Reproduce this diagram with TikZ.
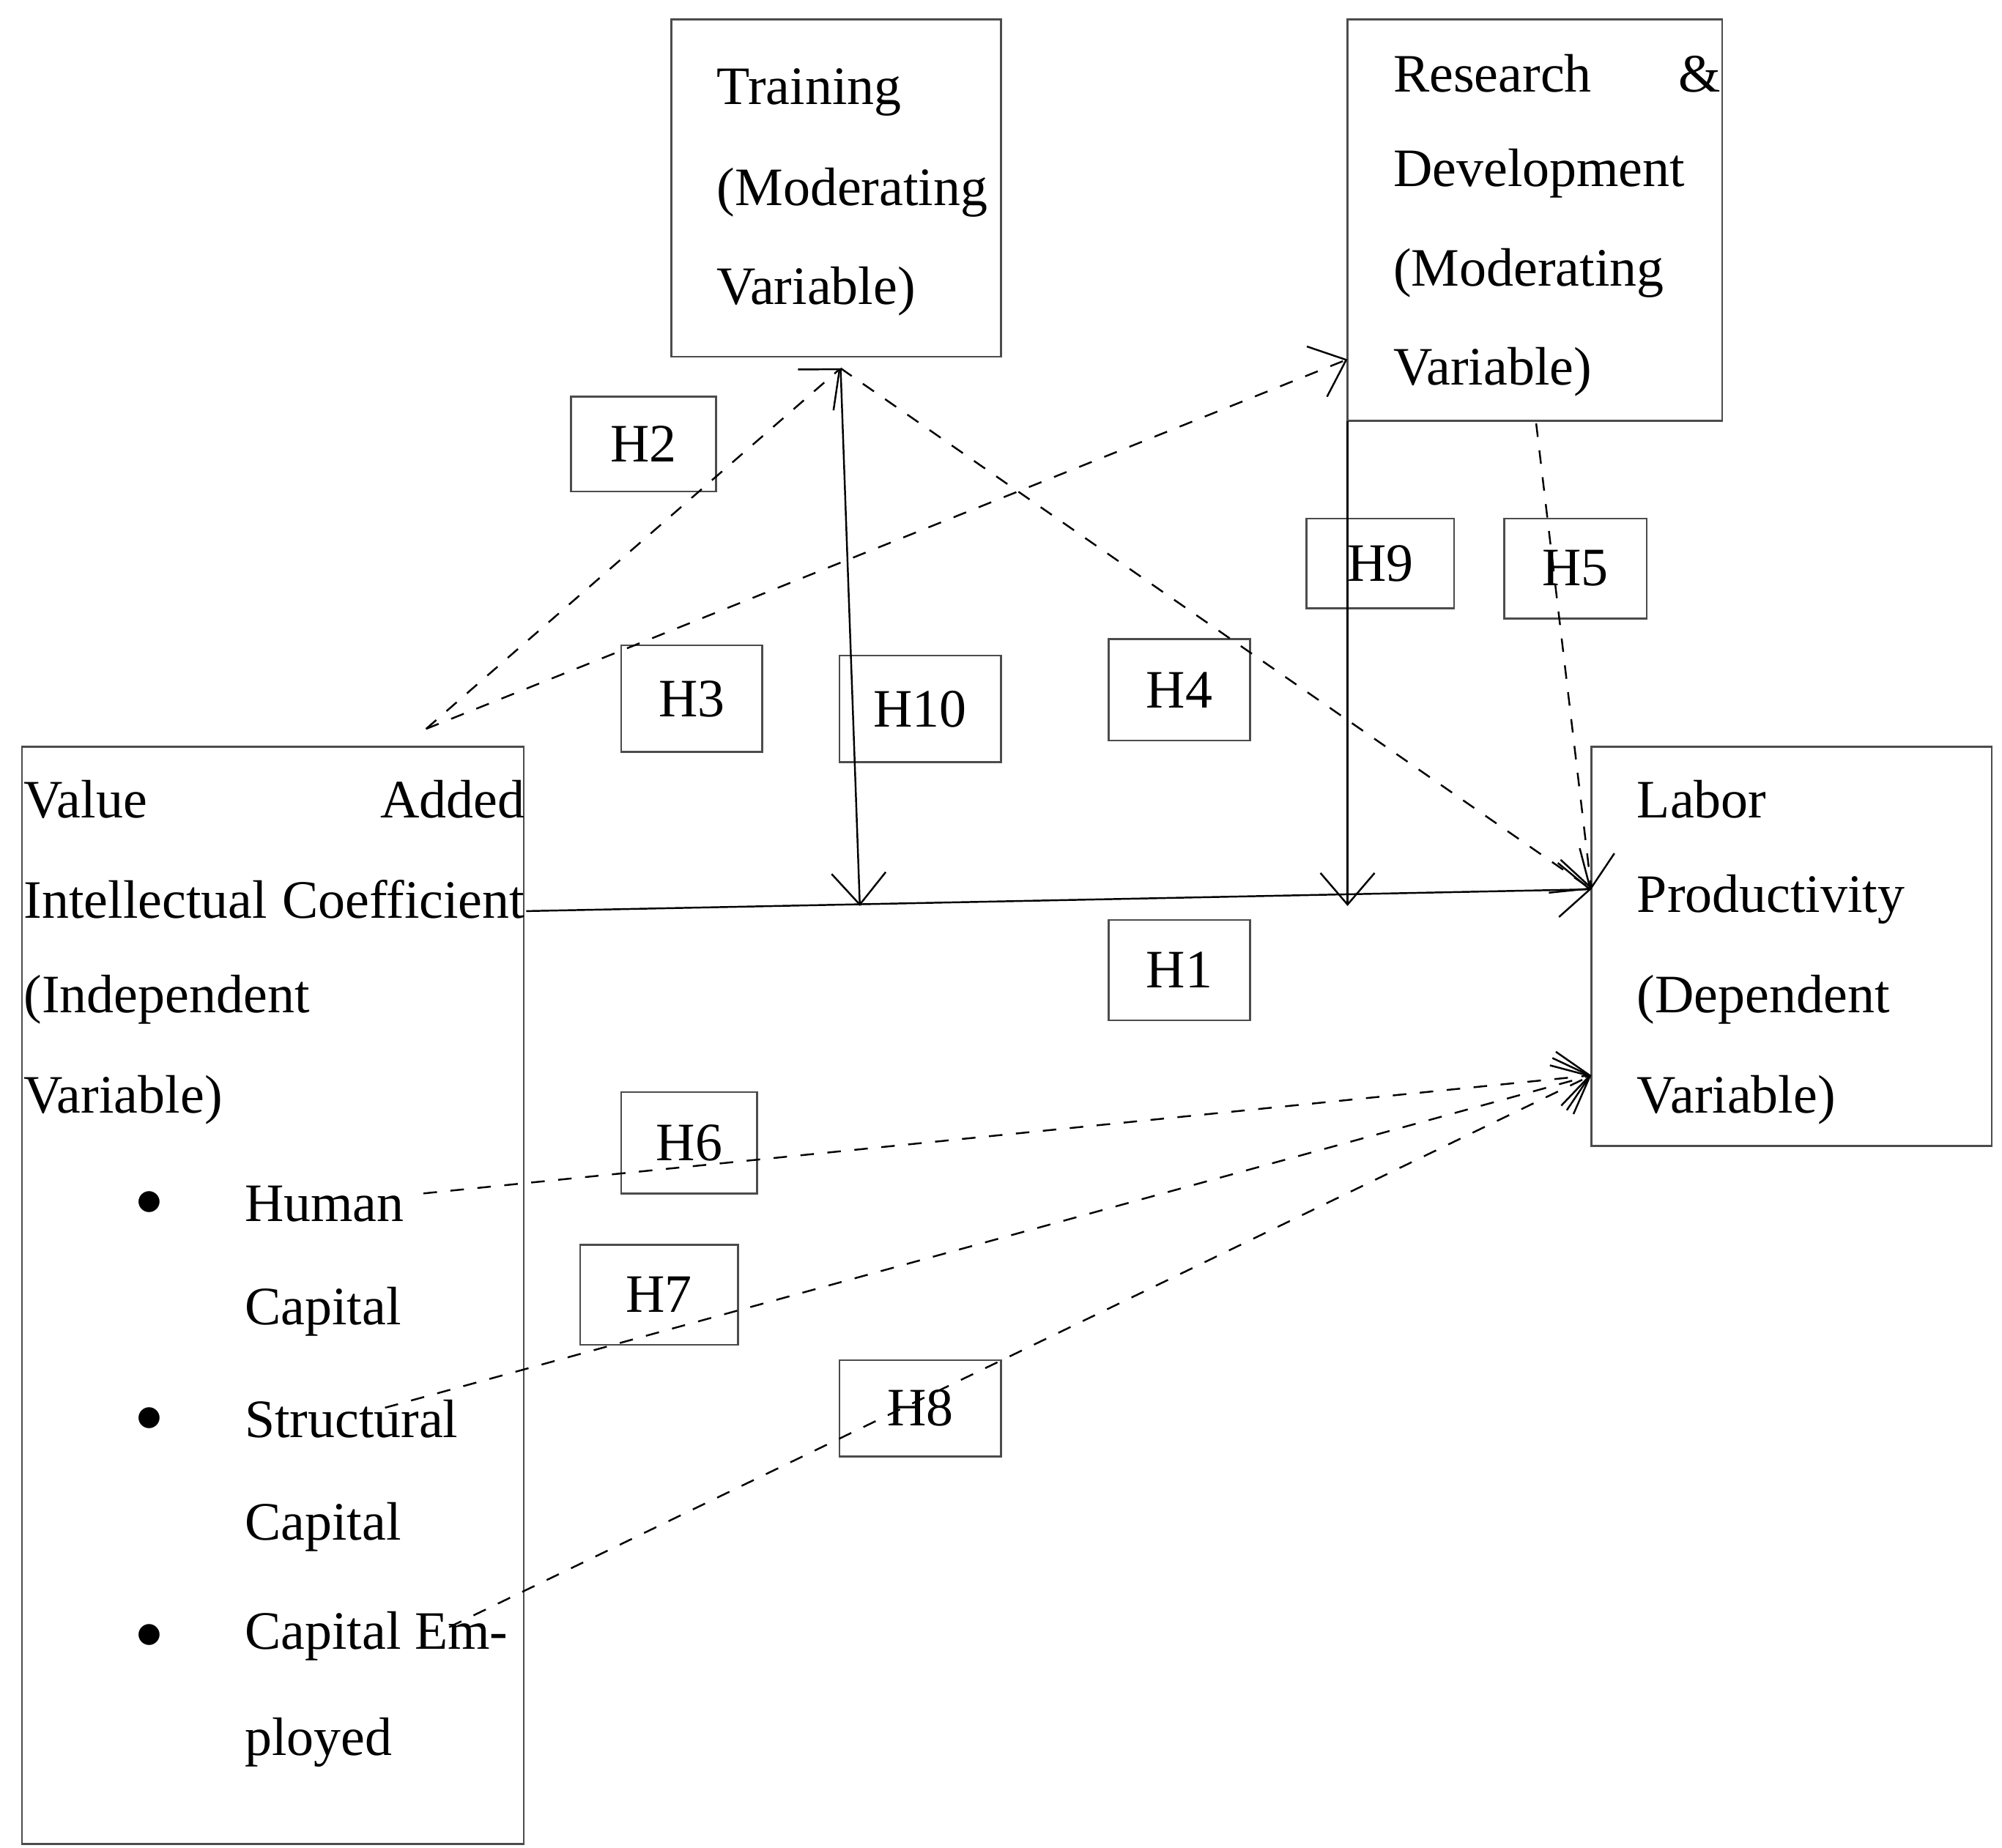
\documentclass[tikz,border=0pt]{standalone}
\usepackage{fontspec}
\setmainfont{Liberation Serif}
\usetikzlibrary{arrows.meta, positioning}
\tikzset{
    frame/.style={draw=black!70, thin, minimum width=#1, inner sep=0pt},
    txt/.style={anchor=west, inner sep=0pt, font=\fontsize{12}{14}\selectfont},
    hbox/.style={draw=black!70, thin, inner sep=0pt, font=\fontsize{12}{14}\selectfont},
    link/.style={draw=black, thin, dashed, -{Straight Barb[length=7pt,width=12pt]}},
    path/.style={draw=black, thin, -{Straight Barb[length=7pt,width=12pt]}}
}
\begin{document}
\begin{tikzpicture}[x=1cm,y=1cm]
\useasboundingbox (0,0) rectangle (15.6,-14.4);

% Boxes
\node[frame=2.57cm, minimum height=2.63cm] (train) at (6.515,-1.465) {};
\node[frame=2.92cm, minimum height=3.13cm] (rd) at (11.96,-1.715) {};
\node[frame=3.91cm, minimum height=8.55cm] (vaic) at (2.125,-10.095) {};
\node[frame=3.12cm, minimum height=3.11cm] (labor) at (13.96,-7.375) {};

% Training text
\node[txt] at (5.58,-0.72) {Training};
\node[txt] at (5.58,-1.50) {(Moderating};
\node[txt] at (5.58,-2.27) {Variable)};

% R&D text
\node[txt] at (10.85,-0.57) {\makebox[2.55cm][s]{Research\hfill\&}};
\node[txt] at (10.85,-1.35) {Development};
\node[txt] at (10.85,-2.13) {(Moderating};
\node[txt] at (10.85,-2.90) {Variable)};

% VAIC text
\node[txt] at (0.18,-6.23) {\makebox[3.9cm][s]{Value\hfill Added}};
\node[txt] at (0.18,-7.01) {\makebox[3.9cm][s]{Intellectual\ \hfill Coefficient}};
\node[txt] at (0.18,-7.79) {(Independent};
\node[txt] at (0.18,-8.57) {Variable)};
\foreach \y/\t in {9.38/Human, 10.22/Capital, 11.06/Structural, 11.90/Capital, 12.75/Capital Em-, 13.58/ployed}
    \node[txt] at (1.90,-\y) {\t};
\foreach \y in {9.38, 11.06, 12.75}
    \node[txt] at (1.05,-\y) {$\bullet$};

% Labor text
\node[txt] at (12.75,-6.23) {Labor};
\node[txt] at (12.75,-7.01) {Productivity};
\node[txt] at (12.75,-7.79) {(Dependent};
\node[txt] at (12.75,-8.57) {Variable)};

% Hypothesis labels
\node[hbox, minimum width=1.13cm, minimum height=0.74cm] (h2) at (5.015,-3.46) {H2};
\node[hbox, minimum width=1.10cm, minimum height=0.83cm] (h3) at (5.39,-5.445) {H3};
\node[hbox, minimum width=1.26cm, minimum height=0.83cm] (h10) at (7.17,-5.525) {H10};
\node[hbox, minimum width=1.10cm, minimum height=0.79cm] (h4) at (9.19,-5.375) {H4};
\node[hbox, minimum width=1.15cm, minimum height=0.70cm] (h9) at (10.755,-4.39) {H9};
\node[hbox, minimum width=1.11cm, minimum height=0.78cm] (h5) at (12.275,-4.43) {H5};
\node[hbox, minimum width=1.10cm, minimum height=0.78cm] (h1) at (9.19,-7.56) {H1};
\node[hbox, minimum width=1.06cm, minimum height=0.79cm] (h6) at (5.37,-8.905) {H6};
\node[hbox, minimum width=1.23cm, minimum height=0.78cm] (h7) at (5.135,-10.09) {H7};
\node[hbox, minimum width=1.26cm, minimum height=0.75cm] (h8) at (7.17,-10.975) {H8};

% Connector end points
\coordinate (vtop) at (3.32,-5.68);
\coordinate (ttip) at (6.55,-2.87);
\coordinate (rdin) at (10.50,-2.80);
\coordinate (vout) at (4.10,-7.10);
\coordinate (lin) at (12.40,-6.93);
\coordinate (lin2) at (12.40,-8.38);
\coordinate (mid1) at (6.70,-7.06);
\coordinate (rdbot) at (10.50,-3.28);
\coordinate (mid2) at (10.50,-7.06);
\coordinate (rdout) at (11.97,-3.30);
\coordinate (hc) at (3.30,-9.30);
\coordinate (sc) at (3.00,-10.97);
\coordinate (ce) at (3.50,-12.68);

% Connectors
\draw[link] (vtop) -- (ttip);
\draw[link] (vtop) -- (rdin);
\draw[link] (ttip) -- (lin);
\draw[path] (vout) -- (lin);
\draw[path] (ttip) -- (mid1);
\draw[path] (rdbot) -- (mid2);
\draw[link] (rdout) -- (lin);
\draw[link] (hc) -- (lin2);
\draw[link] (sc) -- (lin2);
\draw[link] (ce) -- (lin2);

\end{tikzpicture}
\end{document}
